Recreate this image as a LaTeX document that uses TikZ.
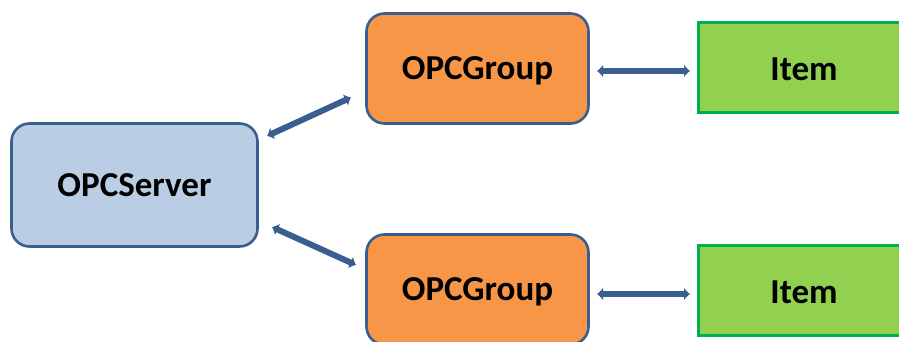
\documentclass[tikz,border=0pt]{standalone}
\usepackage{fontspec}
\setmainfont{Carlito}
\usetikzlibrary{arrows.meta}
\definecolor{edgeblue}{HTML}{3A5F8F}
\definecolor{serverfill}{HTML}{B9CDE5}
\definecolor{groupfill}{HTML}{F79646}
\definecolor{itemfill}{HTML}{92D050}
\definecolor{itemedge}{HTML}{00B050}
\tikzset{
  x=1pt, y=1pt,
  label font/.style={font=\fontsize{35}{40}\selectfont\bfseries, text=black,
    text depth=0pt},
  box/.style={draw=edgeblue, line width=2.6pt, rounded corners=18pt,
    label font, inner sep=0pt},
  serverbox/.style={box, fill=serverfill, minimum width=246pt, minimum height=123pt},
  groupbox/.style={box, fill=groupfill, minimum width=222pt, minimum height=110pt},
  itembox/.style={draw=itemedge, fill=itemfill, line width=3pt, inner sep=0pt,
    minimum width=216pt, minimum height=90pt},
  link/.style={draw=edgeblue, line width=6pt,
    {Latex[length=6pt,width=13pt]}-{Latex[length=6pt,width=13pt]}}
}
\begin{document}
\begin{tikzpicture}
\useasboundingbox (0,0) rectangle (899,342);
\clip (0,0) rectangle (899,342);

% boxes
\node[serverbox] (server) at (134.5,157) {OPCServer};
\node[groupbox] (g1) at (477.5,273.5) {OPCGroup};
\node[groupbox] (g2) at (477.5,52.5) {OPCGroup};
\node[itembox] (i1) at (806,274.5) {};
\node[itembox] (i2) at (806,51.5) {};
\node[label font] (t1) at (804,273) {Item};
\node[label font] (t2) at (804,50) {Item};

% connector end points
\coordinate (s1) at (267,206);
\coordinate (e1) at (351,244.5);
\coordinate (s2) at (272,115);
\coordinate (e2) at (356,77);
\coordinate (h1a) at (597,271);
\coordinate (h1b) at (690,271);
\coordinate (h2a) at (597,48);
\coordinate (h2b) at (690,48);

% connectors
\draw[link] (s1) -- (e1);
\draw[link] (s2) -- (e2);
\draw[link] (h1a) -- (h1b);
\draw[link] (h2a) -- (h2b);
\end{tikzpicture}
\end{document}
